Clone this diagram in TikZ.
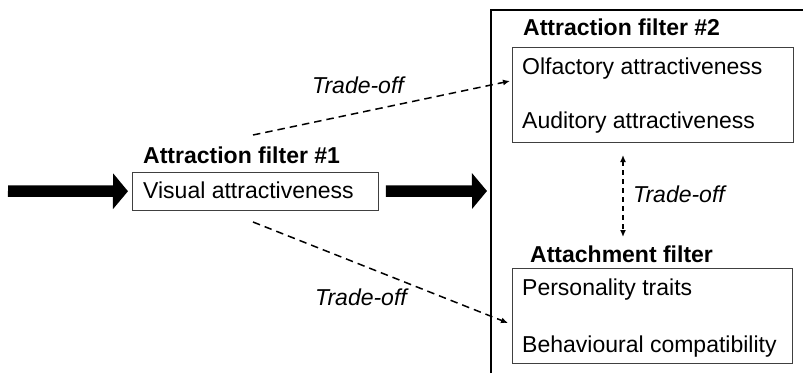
\documentclass[tikz,border=0pt]{standalone}
\usepackage{fontspec}
\setmainfont{Liberation Sans}
\usetikzlibrary{arrows.meta,positioning}

\begin{document}
\begin{tikzpicture}
  [x=1pt,y=-1pt,
   every node/.style={font=\fontsize{23}{27}\selectfont,inner sep=0pt},
   title/.style={font=\fontsize{23}{27}\selectfont\bfseries,anchor=base west},
   item/.style={anchor=base west},
   tradeoff/.style={font=\fontsize{23}{27}\selectfont\itshape,anchor=base west},
   filterbox/.style={draw=black!75,line width=0.9pt,anchor=north west},
   fatarrow/.style={line width=11.5pt,-{Triangle[length=15pt,width=35pt]}},
   tradearrow/.style={line width=1.5pt,dash pattern=on 7.5pt off 5pt,
     >={Latex[length=7pt,width=6pt]},->}]
  \useasboundingbox (0,0) rectangle (803,373);
  % frame round the later filters
  \draw[line width=2.6pt] (491,373) -- (491,10) -- (803,10);

  \node[filterbox,minimum width=246pt,minimum height=38pt] (visual) at (132,172) {};
  \node[filterbox,minimum width=281pt,minimum height=95pt] (senses) at (512,47) {};
  \node[filterbox,minimum width=280pt,minimum height=95pt] (attach) at (512,268) {};

  \node[title] (filt1) at (143,163) {Attraction filter \#1};
  \node[item] (vis) at (143,198) {Visual attractiveness};
  \node[title] (filt2) at (523,35) {Attraction filter \#2};
  \node[item] (olf) at (522,74) {Olfactory attractiveness};
  \node[item] (aud) at (522,128) {Auditory attractiveness};
  \node[title] (filt3) at (530,262) {Attachment filter};
  \node[item] (pers) at (522,295) {Personality traits};
  \node[item] (behav) at (522,352) {Behavioural compatibility};

  \node[tradeoff] (tr1) at (312,93) {Trade-off};
  \node[tradeoff] (tr2) at (315,305) {Trade-off};
  \node[tradeoff] (tr3) at (633,202) {Trade-off};

  \coordinate (inflow) at (8,191);
  \coordinate (frameleft) at (491,191);
  \coordinate (up0) at (253,135);
  \coordinate (up1) at (510,81);
  \coordinate (down0) at (253,222);
  \coordinate (down1) at (508,323);
  \coordinate (mid0) at (623,155);
  \coordinate (mid1) at (623,237);

  \draw[fatarrow,shorten >=4pt] (inflow) -- (visual);
  \draw[fatarrow,shorten <=7pt,shorten >=4pt] (visual) -- (frameleft);
  \draw[tradearrow] (up0) -- (up1);
  \draw[tradearrow] (down0) -- (down1);
  \draw[tradearrow,dash pattern=on 5pt off 4pt,<->] (mid0) -- (mid1);
\end{tikzpicture}
\end{document}
